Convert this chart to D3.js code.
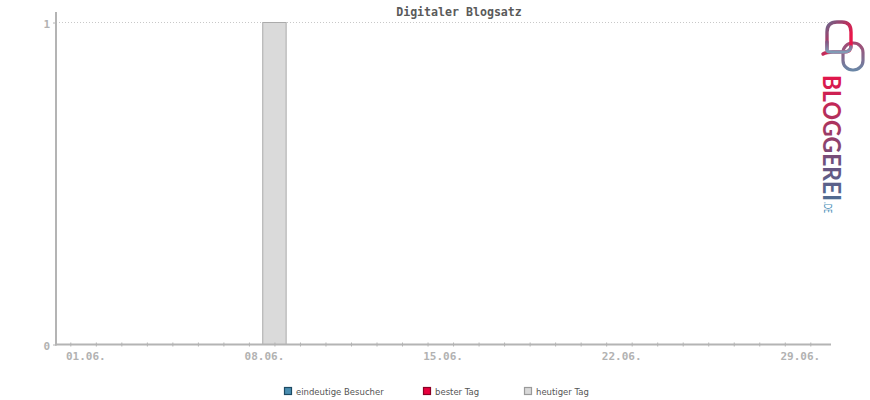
<!DOCTYPE html>
<html><head><meta charset="utf-8">
<script src="https://cdn.jsdelivr.net/npm/d3@7"></script>
<style>
html,body{margin:0;padding:0;background:#fff;}
svg{display:block;}
</style></head>
<body>
<svg id="c" width="870" height="400"></svg>
<script>
// ---- data ----
const title = "Digitaler Blogsatz";
const days = d3.range(0, 30);                 // tick positions (day of month, 0 = 31.05.)
const dayLabels = ["01.06.", "08.06.", "15.06.", "22.06.", "29.06."];
const labelDays = [1, 8, 15, 22, 29];
const visitorDays = d3.range(1, 30);
const visitorValues = visitorDays.map(() => 0);   // eindeutige Besucher
const todayDay = [8];
const todayValue = [1];                            // heutiger Tag
const yTicks = [0, 1];
const legendNames = ["eindeutige Besucher", "bester Tag", "heutiger Tag"];
const legendFill = ["#4a8db0", "#e8003d", "#d9d9d9"];
const legendStroke = ["#1d4a63", "#8a0025", "#9a9a9a"];

const svg = d3.select("#c");
const x = d3.scaleLinear().domain([0, 29]).range([70.3, 810.3]);
const y = d3.scaleLinear().domain([0, 1]).range([344.5, 22.5]);
const axisColor = "#b4b4b4";
const mono = "'DejaVu Sans Mono', monospace";

// title
svg.append("text").attr("x", 459).attr("y", 16).attr("text-anchor", "middle")
  .attr("font-family", mono).attr("font-weight", "bold").attr("font-size", "11.6px")
  .attr("fill", "#5a5a5a").text(title);

// grid line at 1
svg.append("line").attr("x1", 56).attr("x2", 830).attr("y1", y(1)).attr("y2", y(1))
  .attr("stroke", "#c8c8c8").attr("stroke-width", 1).attr("stroke-dasharray", "1,2");

// today bar
const bw = 23.4;
svg.selectAll("rect.today").data(todayDay).enter().append("rect")
  .attr("x", d => x(d) - bw / 2).attr("y", (d, i) => y(todayValue[i]))
  .attr("width", bw).attr("height", (d, i) => y(0) - y(todayValue[i]))
  .attr("fill", "#dadada").attr("stroke", "#ababab").attr("stroke-width", 1);

// visitor bars (all zero)
svg.selectAll("rect.vis").data(visitorDays).enter().append("rect")
  .attr("x", d => x(d) - bw / 2).attr("y", (d, i) => y(visitorValues[i]))
  .attr("width", bw).attr("height", (d, i) => y(0) - y(visitorValues[i]))
  .attr("fill", "#4a8db0");

// x axis
const xAxis = d3.axisBottom(x).tickValues(days).tickSize(0).tickFormat("");
const gx = svg.append("g").attr("transform", "translate(0,344.5)").call(xAxis);
gx.select(".domain").remove();
svg.append("line").attr("x1", 55).attr("x2", 831).attr("y1", 344.5).attr("y2", 344.5)
  .attr("stroke", axisColor).attr("stroke-width", 2);
gx.selectAll(".tick").append("line").attr("y1", -2).attr("y2", 2)
  .attr("stroke", axisColor).attr("stroke-width", 1);
svg.selectAll("text.xl").data(labelDays).enter().append("text")
  .attr("x", d => x(d) - 10).attr("y", 360).attr("text-anchor", "middle")
  .attr("font-family", mono).attr("font-weight", "bold").attr("font-size", "11px").attr("fill", "#b2b2b2")
  .text((d, i) => dayLabels[i]);

// y axis
svg.append("line").attr("x1", 56).attr("x2", 56).attr("y1", 12).attr("y2", 345.5)
  .attr("stroke", axisColor).attr("stroke-width", 2);
const yAxis = d3.axisLeft(y).tickValues(yTicks).tickSize(3).tickFormat(d3.format("d"));
const gy = svg.append("g").attr("transform", "translate(56,0)").call(yAxis);
gy.select(".domain").remove();
gy.selectAll(".tick line").attr("stroke", axisColor);
gy.selectAll(".tick text").attr("x", -6).attr("dy", "0.45em")
  .attr("font-family", mono).attr("font-weight", "bold").attr("font-size", "11px").attr("fill", "#b2b2b2");

// legend
const lx = [284, 423, 524];
const lg = svg.selectAll("g.lg").data(legendNames).enter().append("g")
  .attr("transform", (d, i) => `translate(${lx[i]},387)`);
lg.append("rect").attr("x", 0.5).attr("y", 0.5).attr("width", 7).attr("height", 7)
  .attr("fill", (d, i) => legendFill[i]).attr("stroke", (d, i) => legendStroke[i]).attr("stroke-width", 1.2);
lg.append("text").attr("x", 12).attr("y", 7.5)
  .attr("font-family", "'DejaVu Sans', Verdana, sans-serif").attr("font-size", "8.5px")
  .attr("fill", "#555").text(d => d);

// logo
const defs = svg.append("defs");
const g1 = defs.append("linearGradient").attr("id", "gb").attr("x1", "0").attr("y1", "0").attr("x2", "1").attr("y2", "1");
g1.append("stop").attr("offset", "0").attr("stop-color", "#5a6f93");
g1.append("stop").attr("offset", "0.45").attr("stop-color", "#b7325f");
g1.append("stop").attr("offset", "0.7").attr("stop-color", "#e8174a");
const g1b = defs.append("linearGradient").attr("id", "gb2").attr("x1", "0").attr("y1", "0").attr("x2", "0").attr("y2", "1");
g1b.append("stop").attr("offset", "0").attr("stop-color", "#7d5a86");
g1b.append("stop").attr("offset", "1").attr("stop-color", "#6fb3c9");
const g2 = defs.append("linearGradient").attr("id", "gr").attr("x1", "0").attr("y1", "0").attr("x2", "0").attr("y2", "1");
g2.append("stop").attr("offset", "0").attr("stop-color", "#a24a73");
g2.append("stop").attr("offset", "1").attr("stop-color", "#6a86a6");
const g3 = defs.append("linearGradient").attr("id", "gt").attr("gradientUnits", "userSpaceOnUse")
  .attr("x1", 0).attr("y1", 0).attr("x2", 128).attr("y2", 0);
g3.append("stop").attr("offset", "0").attr("stop-color", "#e3154b");
g3.append("stop").attr("offset", "0.4").attr("stop-color", "#a8365f");
g3.append("stop").attr("offset", "0.7").attr("stop-color", "#6a5280");
g3.append("stop").attr("offset", "1").attr("stop-color", "#4d6f93");

const logo = svg.append("g");
// ring
logo.append("rect").attr("x", 843).attr("y", 43).attr("width", 20).attr("height", 27).attr("rx", 9.5)
  .attr("fill", "none").attr("stroke", "url(#gr)").attr("stroke-width", 3.2);
// bubble
logo.append("path")
  .attr("d", "M827,50 L827,32 Q827,22 837,22 L842,22 Q851,22 851,32 L851,46 Q851,52 844,52 L833,52 Q826,52 823,54")
  .attr("fill", "none").attr("stroke", "url(#gb)").attr("stroke-width", 3.4).attr("stroke-linecap", "round");
logo.append("path")
  .attr("d", "M827,42 L827,50 Q827,52 831,52 L844,52 Q850,52 851,47")
  .attr("fill", "none").attr("stroke", "url(#gb2)").attr("stroke-width", 3.4).attr("stroke-linecap", "round").attr("opacity", 0.85);
// text
const tg = logo.append("g").attr("transform", "translate(823,75) rotate(90)");
tg.append("text").attr("x", 0).attr("y", 0)
  .attr("font-family", "Lato, 'Open Sans', sans-serif").attr("font-weight", "bold").attr("font-size", "24px")
  .attr("textLength", 126).attr("lengthAdjust", "spacingAndGlyphs")
  .attr("fill", "url(#gt)").text("BLOGGEREI");
tg.append("text").attr("x", 127).attr("y", -0.5)
  .attr("font-family", "Lato, 'Open Sans', sans-serif").attr("font-size", "12px")
  .attr("textLength", 11).attr("lengthAdjust", "spacingAndGlyphs")
  .attr("fill", "#4a8fb8").text(".DE");
</script>
</body></html>
